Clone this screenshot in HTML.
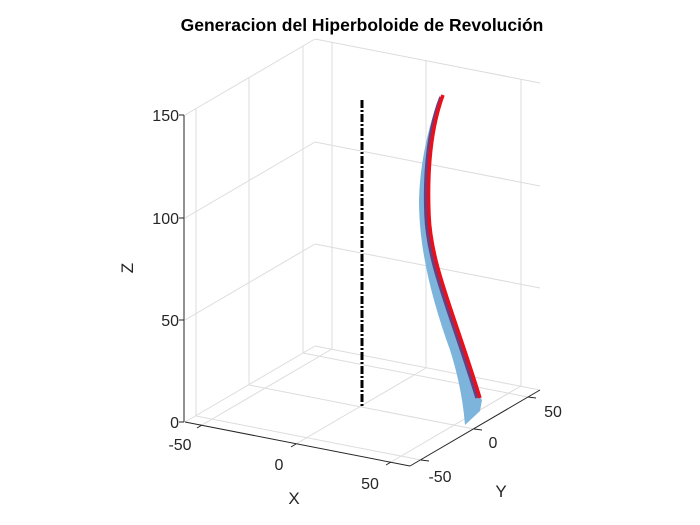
<!DOCTYPE html>
<html><head><meta charset="utf-8"><style>
html,body{margin:0;padding:0;background:#fff;}
svg{display:block;font-family:"Liberation Sans",sans-serif;}
</style></head><body>
<svg width="700" height="525" viewBox="0 0 700 525" xmlns="http://www.w3.org/2000/svg">
<rect width="700" height="525" fill="#fff"/>
<text x="362" y="31" text-anchor="middle" font-size="17.5" font-weight="bold" fill="#000">Generacion del Hiperboloide de Revolución</text>
<g stroke="#dcdcdc" stroke-width="1" fill="none">
<line x1="185" y1="115" x2="315" y2="39"/>
<line x1="185" y1="218" x2="315" y2="142"/>
<line x1="185" y1="320" x2="315" y2="244"/>
<line x1="196" y1="416" x2="196" y2="109"/>
<line x1="249" y1="385" x2="249" y2="78"/>
<line x1="303" y1="353" x2="303" y2="46"/>
<line x1="315" y1="39" x2="540" y2="83"/>
<line x1="315" y1="142" x2="540" y2="186"/>
<line x1="315" y1="244" x2="540" y2="288"/>
<line x1="332" y1="349" x2="332" y2="42"/>
<line x1="426" y1="368" x2="426" y2="61"/>
<line x1="521" y1="386" x2="521" y2="79"/>
<line x1="315" y1="346" x2="540" y2="390"/>
<line x1="185" y1="422" x2="315" y2="346"/>
<line x1="196" y1="416" x2="421" y2="460"/>
<line x1="249" y1="385" x2="474" y2="429"/>
<line x1="303" y1="353" x2="528" y2="397"/>
<line x1="202" y1="425" x2="332" y2="349"/>
<line x1="296" y1="444" x2="426" y2="368"/>
<line x1="391" y1="462" x2="521" y2="386"/>
</g>
<g stroke="#262626" stroke-width="1" fill="none">
<line x1="184" y1="115" x2="184" y2="422"/>
<line x1="184" y1="115" x2="179" y2="115"/><line x1="184" y1="218" x2="179" y2="218"/>
<line x1="184" y1="320" x2="179" y2="320"/><line x1="184" y1="422" x2="179" y2="422"/>
<line x1="185" y1="422" x2="410" y2="466"/>
<line x1="410" y1="466" x2="540" y2="390"/>
<line x1="202" y1="425" x2="197" y2="428"/><line x1="296" y1="444" x2="291" y2="447"/><line x1="391" y1="462" x2="386" y2="465"/>
<line x1="421" y1="460" x2="429" y2="461"/><line x1="474" y1="429" x2="482" y2="430"/><line x1="528" y1="397" x2="536" y2="398"/>
</g>
<g font-size="16" fill="#262626">
<text x="179" y="121" text-anchor="end">150</text>
<text x="179" y="224" text-anchor="end">100</text>
<text x="179" y="326" text-anchor="end">50</text>
<text x="179" y="428" text-anchor="end">0</text>
<text x="180" y="450" text-anchor="middle">-50</text>
<text x="279" y="470" text-anchor="middle">0</text>
<text x="370" y="489" text-anchor="middle">50</text>
<text x="440" y="482" text-anchor="middle">-50</text>
<text x="493" y="448" text-anchor="middle">0</text>
<text x="553" y="417" text-anchor="middle">50</text>
<text x="294" y="504" text-anchor="middle" font-size="17">X</text>
<text x="501" y="497" text-anchor="middle" font-size="17">Y</text>
<text x="0" y="0" font-size="17" text-anchor="middle" transform="translate(133,268) rotate(-90)">Z</text>
</g>
<line x1="362" y1="100" x2="362" y2="406" stroke="#000" stroke-width="3" stroke-dasharray="8,2,2,2"/>
<path d="M440,97 C430,120 420,160 419,200 C419,250 432,300 450,350 C458,375 463,400 465,425 L480,411 L482,400 L480,397 C470,360 455,320 445,292 C432,260 427,230 426,195 C426,160 432,125 443,96 Z" fill="#7db4db"/>
<path d="M441,97 C430,125 424,165 426,215 C428,265 450,310 477,398" fill="none" stroke="#6a3f80" stroke-width="3.5"/>
<path d="M443,95 C432,125 427,165 429,215 C431,265 453,310 480,398" fill="none" stroke="#e8101a" stroke-width="3.5"/>
</svg>
</body></html>
